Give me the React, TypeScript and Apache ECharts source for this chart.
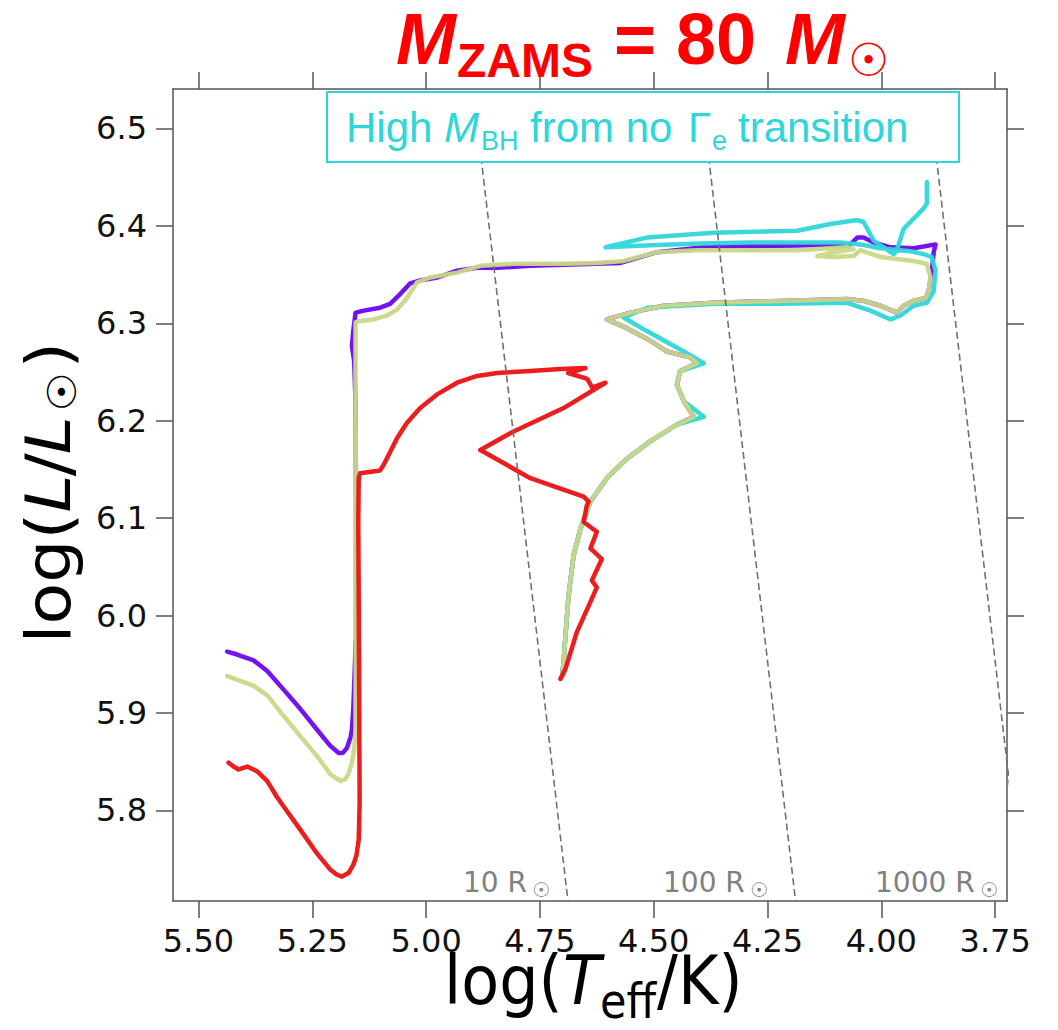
import React, { useEffect, useRef } from 'react';
import * as echarts from 'echarts';

// ---- axis ranges and ticks (log Teff inverted, log L) ----
const xRange = [3.724, 5.556];
const yRange = [5.707, 6.5405];
const xTicks = [5.5, 5.25, 5.0, 4.75, 4.5, 4.25, 4.0, 3.75];
const yTicks = [5.8, 5.9, 6.0, 6.1, 6.2, 6.3, 6.4, 6.5];

// ---- evolutionary tracks: [logTeff, logL] ----
const trackPurple: number[][] = [
  [4.701, 5.938], [4.698, 5.952], [4.694, 5.979], [4.687, 6.021], [4.676, 6.062], [4.661, 6.089], [4.639, 6.117],
  [4.603, 6.141], [4.559, 6.161], [4.507, 6.179], [4.449, 6.196], [4.412, 6.204], [4.434, 6.22], [4.449, 6.237],
  [4.442, 6.251], [4.405, 6.259], [4.42, 6.265], [4.471, 6.271], [4.507, 6.282], [4.559, 6.295], [4.603, 6.304],
  [4.551, 6.311], [4.478, 6.318], [4.368, 6.321], [4.222, 6.323], [4.075, 6.325], [4.039, 6.323], [4.002, 6.318],
  [3.966, 6.311], [3.951, 6.318], [3.929, 6.323], [3.903, 6.326], [3.896, 6.333],
  [3.889, 6.354], [3.885, 6.373], [3.881, 6.381], [3.929, 6.377], [3.98, 6.378], [4.017, 6.383], [4.039, 6.388],
  [4.053, 6.388], [4.068, 6.381], [4.075, 6.38], [4.149, 6.38], [4.295, 6.379], [4.39, 6.378], [4.493, 6.373],
  [4.573, 6.362], [4.625, 6.361], [4.698, 6.36], [4.771, 6.359], [4.844, 6.357], [4.888, 6.357], [4.932, 6.354],
  [4.976, 6.347], [5.013, 6.344], [5.035, 6.341], [5.057, 6.33], [5.079, 6.32], [5.101, 6.316], [5.137, 6.313],
  [5.155, 6.311], [5.16, 6.292], [5.163, 6.277], [5.158, 6.261], [5.155, 6.22], [5.154, 6.117], [5.154, 5.98],
  [5.158, 5.928], [5.16, 5.904], [5.163, 5.883], [5.166, 5.875], [5.174, 5.864], [5.183, 5.859], [5.192, 5.859],
  [5.21, 5.866], [5.24, 5.883], [5.276, 5.904], [5.313, 5.924], [5.349, 5.943], [5.379, 5.954], [5.415, 5.96],
  [5.437, 5.963],
];

const trackCyan: number[][] = [
  [4.701, 5.938], [4.698, 5.952], [4.694, 5.979], [4.687, 6.021], [4.676, 6.062], [4.661, 6.089], [4.639, 6.117],
  [4.603, 6.141], [4.559, 6.161], [4.507, 6.179], [4.449, 6.196], [4.39, 6.204], [4.434, 6.22], [4.449, 6.237],
  [4.442, 6.251], [4.39, 6.259], [4.434, 6.271], [4.515, 6.292], [4.566, 6.306], [4.515, 6.316], [4.368, 6.32],
  [4.222, 6.32], [4.075, 6.321], [4.024, 6.313], [3.98, 6.304], [3.958, 6.308], [3.929, 6.318], [3.9, 6.321],
  [3.885, 6.333], [3.881, 6.354], [3.889, 6.368], [3.907, 6.371], [3.936, 6.374], [4.002, 6.377], [4.046, 6.381],
  [4.09, 6.383], [4.127, 6.383], [4.288, 6.383], [4.398, 6.382], [4.507, 6.38], [4.606, 6.378], [4.515, 6.388],
  [4.368, 6.393], [4.185, 6.395], [4.112, 6.402], [4.053, 6.406], [4.039, 6.404], [4.017, 6.385], [3.973, 6.371],
  [3.966, 6.375], [3.951, 6.397], [3.907, 6.418], [3.9, 6.423], [3.9, 6.445],
];

const trackKhaki: number[][] = [
  [4.701, 5.938], [4.698, 5.952], [4.694, 5.979], [4.687, 6.021], [4.676, 6.062], [4.661, 6.089], [4.639, 6.117],
  [4.603, 6.141], [4.559, 6.161], [4.507, 6.179], [4.449, 6.196], [4.412, 6.204], [4.434, 6.22], [4.449, 6.237],
  [4.442, 6.251], [4.405, 6.259], [4.42, 6.265], [4.471, 6.271], [4.507, 6.282], [4.559, 6.295], [4.603, 6.304],
  [4.551, 6.311], [4.478, 6.318], [4.368, 6.321], [4.222, 6.323], [4.075, 6.325], [4.039, 6.323], [4.002, 6.318],
  [3.966, 6.311], [3.951, 6.318], [3.929, 6.323], [3.903, 6.326], [3.896, 6.333],
  [3.892, 6.347], [3.9, 6.361], [3.929, 6.364], [4.002, 6.368], [4.046, 6.375], [4.061, 6.369], [4.105, 6.368],
  [4.141, 6.369], [4.105, 6.373], [4.061, 6.376], [4.075, 6.378], [4.185, 6.375], [4.295, 6.375], [4.405, 6.375],
  [4.493, 6.373], [4.566, 6.364], [4.625, 6.362], [4.698, 6.361], [4.808, 6.361], [4.881, 6.359], [4.932, 6.352],
  [4.991, 6.347], [5.02, 6.342], [5.042, 6.326], [5.064, 6.314], [5.086, 6.308], [5.115, 6.304], [5.148, 6.302],
  [5.155, 6.301], [5.155, 6.22], [5.154, 6.117], [5.154, 6.014], [5.155, 5.911], [5.155, 5.883], [5.158, 5.862],
  [5.163, 5.849], [5.17, 5.838], [5.178, 5.832], [5.188, 5.83], [5.21, 5.837], [5.24, 5.856], [5.276, 5.876],
  [5.313, 5.897], [5.349, 5.918], [5.379, 5.928], [5.415, 5.934], [5.437, 5.938],
];

const trackRed: number[][] = [
  [4.705, 5.935], [4.694, 5.945], [4.669, 5.983], [4.639, 6.014], [4.625, 6.029], [4.636, 6.036], [4.614, 6.058],
  [4.639, 6.069], [4.625, 6.086], [4.654, 6.096], [4.647, 6.113], [4.643, 6.117], [4.654, 6.122], [4.727, 6.134],
  [4.771, 6.141], [4.881, 6.17], [4.808, 6.189], [4.698, 6.213], [4.606, 6.239], [4.635, 6.234], [4.646, 6.243],
  [4.688, 6.249], [4.65, 6.254], [4.705, 6.253], [4.771, 6.251], [4.844, 6.249], [4.888, 6.246], [4.932, 6.239],
  [4.976, 6.227], [5.013, 6.213], [5.042, 6.198], [5.064, 6.182], [5.079, 6.168], [5.093, 6.155], [5.101, 6.149],
  [5.145, 6.146], [5.148, 6.141], [5.149, 6.096], [5.148, 6.014], [5.147, 5.911], [5.146, 5.808], [5.148, 5.77],
  [5.153, 5.754], [5.16, 5.744], [5.17, 5.736], [5.185, 5.732], [5.196, 5.734], [5.21, 5.739], [5.24, 5.756],
  [5.276, 5.78], [5.313, 5.804], [5.328, 5.814], [5.349, 5.83], [5.371, 5.84], [5.393, 5.845], [5.412, 5.842],
  [5.423, 5.845], [5.434, 5.849],
];

// ---- constant-radius lines (endpoints in logTeff, logL) ----
const radiusLabels = ['10 R', '100 R', '1000 R'];
const radiusLines: number[][][] = [
  [[4.6617, 5.6], [4.9117, 6.6]],
  [[4.1617, 5.6], [4.4117, 6.6]],
  [[3.6617, 5.6], [3.9117, 6.6]],
];

const trackColors = ['#6e05f0', '#2fd6d9', '#c9d887', '#ec1111'];
const CYAN_TXT = '#2fd6d9';

export default function App() {
  const ref = useRef<HTMLDivElement>(null);

  useEffect(() => {
    if (!ref.current) return;
    const chart = echarts.init(ref.current, undefined, { renderer: 'svg' });

    const dv = 'DejaVu Sans';
    const lib = 'Liberation Sans';
    const t = (text: string, x: number, base: number, size: number, extra: any = {}) => ({
      type: 'text',
      x,
      y: base - 0.35 * size,
      z: 60,
      style: {
        text,
        fontSize: size,
        fontFamily: dv,
        fill: '#000',
        align: 'left',
        verticalAlign: 'middle',
        ...extra,
      },
    });

    const tracks = [trackPurple, trackCyan, trackKhaki, trackRed];
    const series: any[] = tracks.map((d, i) => ({
      type: 'line',
      data: d,
      showSymbol: false,
      symbol: 'none',
      clip: true,
      z: 3 + i,
      lineStyle: { color: trackColors[i], width: 4.5, opacity: 0.95, cap: 'round', join: 'round' },
      silent: true,
    }));
    radiusLines.forEach((d) => {
      series.push({
        type: 'line',
        data: d,
        showSymbol: false,
        symbol: 'none',
        clip: true,
        z: 10,
        lineStyle: { color: '#707070', width: 1.6, type: [7, 4] },
        silent: true,
      });
    });

    const axisLineStyle = { color: '#555', width: 1.5 };
    const tickStyle = { color: '#555', width: 1.5 };

    const option: any = {
      animation: false,
      backgroundColor: '#fff',
      grid: { left: 173, right: 51, top: 89, bottom: 129, containLabel: false },
      xAxis: [
        {
          type: 'value', inverse: true, min: xRange[0], max: xRange[1], position: 'bottom',
          axisLine: { show: true, onZero: false, lineStyle: axisLineStyle },
          axisTick: { show: true, customValues: xTicks, length: 17, lineStyle: tickStyle },
          axisLabel: {
            show: true, customValues: xTicks, formatter: (v: number) => v.toFixed(2),
            fontSize: 32, fontFamily: dv, color: '#111', margin: 24,
          },
          splitLine: { show: false },
        },
        {
          type: 'value', inverse: true, min: xRange[0], max: xRange[1], position: 'top',
          axisLine: { show: true, onZero: false, lineStyle: axisLineStyle },
          axisTick: { show: true, customValues: xTicks, length: 17, lineStyle: tickStyle },
          axisLabel: { show: false },
          splitLine: { show: false },
        },
      ],
      yAxis: [
        {
          type: 'value', min: yRange[0], max: yRange[1], position: 'left',
          axisLine: { show: true, onZero: false, lineStyle: axisLineStyle },
          axisTick: { show: true, customValues: yTicks, length: 17, lineStyle: tickStyle },
          axisLabel: {
            show: true, customValues: yTicks, formatter: (v: number) => v.toFixed(1),
            fontSize: 32, fontFamily: dv, color: '#111', margin: 26,
          },
          splitLine: { show: false },
        },
        {
          type: 'value', min: yRange[0], max: yRange[1], position: 'right',
          axisLine: { show: true, onZero: false, lineStyle: axisLineStyle },
          axisTick: { show: true, customValues: yTicks, length: 17, lineStyle: tickStyle },
          axisLabel: { show: false },
          splitLine: { show: false },
        },
      ],
      series,
      graphic: {
        elements: [
          // title
          t('M', 396, 64, 72, { fontFamily: lib, fontWeight: 'bold', fontStyle: 'italic', fill: '#ff0000' }),
          t('ZAMS', 457, 77, 48, { fontFamily: lib, fontWeight: 'bold', fill: '#ff0000' }),
          t('= 80', 614, 64, 72, { fontFamily: lib, fontWeight: 'bold', fill: '#ff0000' }),
          t('M', 785, 64, 72, { fontFamily: lib, fontWeight: 'bold', fontStyle: 'italic', fill: '#ff0000' }),
          t('\u2609', 848, 76, 46, { fontFamily: dv, fill: '#ff0000' }),
          // annotation box
          {
            type: 'rect', z: 55,
            shape: { x: 327, y: 92, width: 632, height: 70 },
            style: { fill: '#fff', stroke: CYAN_TXT, lineWidth: 2 },
          },
          t('High', 346, 141.7, 42, { fontFamily: lib, fill: CYAN_TXT }),
          t('M', 444, 141.7, 42, { fontFamily: lib, fontStyle: 'italic', fill: CYAN_TXT }),
          t('BH', 481, 150, 27, { fontFamily: lib, fill: CYAN_TXT }),
          t('from no', 530, 141.7, 42, { fontFamily: lib, fill: CYAN_TXT }),
          t('\u0393', 688, 141.7, 42, { fontFamily: lib, fill: CYAN_TXT }),
          t('e', 712, 150, 27, { fontFamily: lib, fill: CYAN_TXT }),
          t('transition', 738, 141.7, 42, { fontFamily: lib, fill: CYAN_TXT }),
          // radius labels
          t(radiusLabels[0], 463, 892, 28, { fill: '#808080' }),
          t('\u2609', 532, 897, 20, { fill: '#808080' }),
          t(radiusLabels[1], 663, 892, 28, { fill: '#808080' }),
          t('\u2609', 750, 897, 20, { fill: '#808080' }),
          t(radiusLabels[2], 875, 892, 28, { fill: '#808080' }),
          t('\u2609', 980, 897, 20, { fill: '#808080' }),
          // x axis title
          {
            type: 'group', x: 590, y: 1004, scaleY: 1.1, z: 60,
            children: [
              t('log(', -146, 0, 62),
              t('T', -27, 0, 62, { fontStyle: 'italic' }),
              t('eff', 10, 13, 43),
              t('/K)', 67, 0, 62),
            ],
          },
          // y axis title (rotated)
          {
            type: 'group', x: 70, y: 495, scaleY: 1.1, z: 60,
            children: [
              {
                type: 'group', rotation: Math.PI / 2,
                children: [
                  t('log(', -135, 0, 62),
                  t('L', -16, 0, 62, { fontStyle: 'italic' }),
                  t('/', 17, 0, 62),
                  t('L', 37, 0, 62, { fontStyle: 'italic' }),
                  t('\u2609', 76, 6, 40),
                  t(')', 115, 0, 62),
                ],
              },
            ],
          },
        ],
      },
    };

    chart.setOption(option);
    return () => chart.dispose();
  }, []);

  return (
    <div
      ref={ref}
      style={{ position: 'fixed', left: 0, top: 0, width: 1058, height: 1030, background: '#fff' }}
    />
  );
}
